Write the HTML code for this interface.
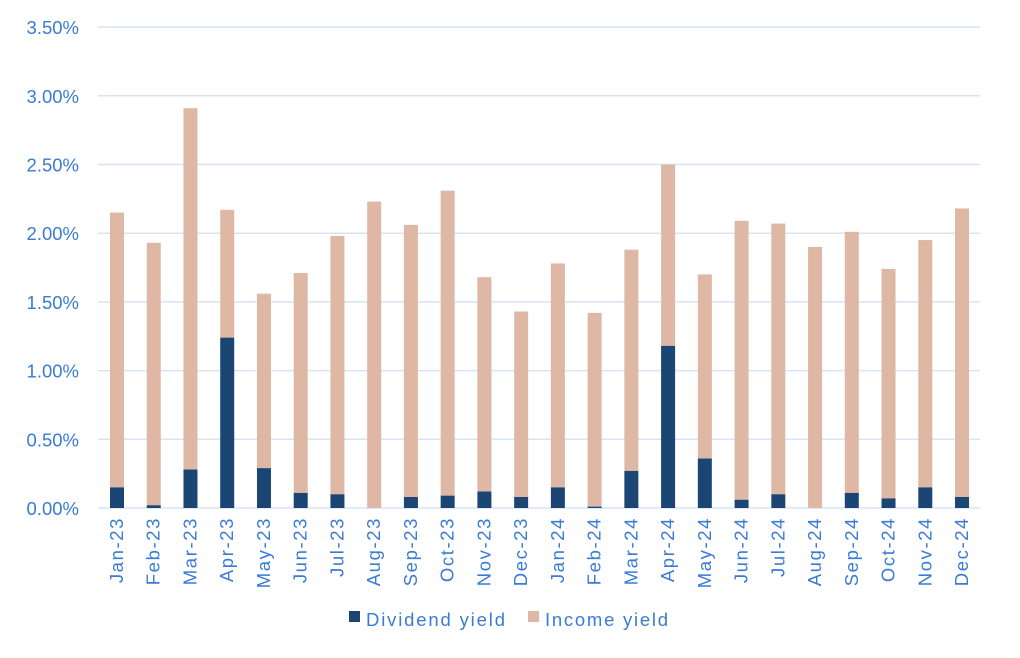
<!DOCTYPE html>
<html><head><style>body{margin:0;background:#fff}</style></head><body>
<svg width="1020" height="653" xmlns="http://www.w3.org/2000/svg" font-family="Liberation Sans, sans-serif">
<g id="grid" stroke="#D6E4F5" stroke-width="1.5"></g>
<g id="bars"></g>
<g id="lab" fill="#3A7BD5" font-size="18.5"></g>
<g id="mon" fill="#3A7BD5" font-size="18.5" letter-spacing="1.6"></g>
<rect x="349" y="611" width="11" height="11" fill="#1B4674"/>
<text x="366" y="626" fill="#3A7BD5" font-size="18.5" textLength="139">Dividend yield</text>
<rect x="528" y="611" width="11" height="11" fill="#DFB8A5"/>
<text x="545" y="626" fill="#3A7BD5" font-size="18.5" textLength="123">Income yield</text>
<script>
var g=document.getElementById('grid'),b=document.getElementById('bars'),l=document.getElementById('lab'),mo=document.getElementById('mon');
var ns='http://www.w3.org/2000/svg';
function el(p,t,a,txt){var e=document.createElementNS(ns,t);for(var k in a)e.setAttribute(k,a[k]);if(txt)e.textContent=txt;p.appendChild(e);}
var y0=508,s=137.4;
for(var i=0;i<=7;i++){var y=y0-i*0.5*s;el(g,'line',{x1:98,x2:980,y1:y,y2:y});el(l,'text',{x:79,y:y+7,'text-anchor':'end'},(i*0.5).toFixed(2)+'%');}
var d=[[2.15,.15],[1.93,.02],[2.91,.28],[2.17,1.24],[1.56,.29],[1.71,.11],[1.98,.10],[2.23,0],[2.06,.08],[2.31,.09],[1.68,.12],[1.43,.08],[1.78,.15],[1.42,.01],[1.88,.27],[2.50,1.18],[1.70,.36],[2.09,.06],[2.07,.10],[1.90,0],[2.01,.11],[1.74,.07],[1.95,.15],[2.18,.08]];
var m=['Jan','Feb','Mar','Apr','May','Jun','Jul','Aug','Sep','Oct','Nov','Dec'];
d.forEach(function(v,i){var cx=117+i*36.74;
el(b,'rect',{x:cx-7,y:y0-v[0]*s,width:14,height:(v[0]-v[1])*s,fill:'#DFB8A5'});
el(b,'rect',{x:cx-7,y:y0-v[1]*s,width:14,height:v[1]*s,fill:'#1B4674'});
el(mo,'text',{x:0,y:0,'text-anchor':'end',transform:'translate('+(cx+6)+',517) rotate(-90)'},m[i%12]+'-'+(i<12?'23':'24'));});
</script>
</svg>
</body></html>
